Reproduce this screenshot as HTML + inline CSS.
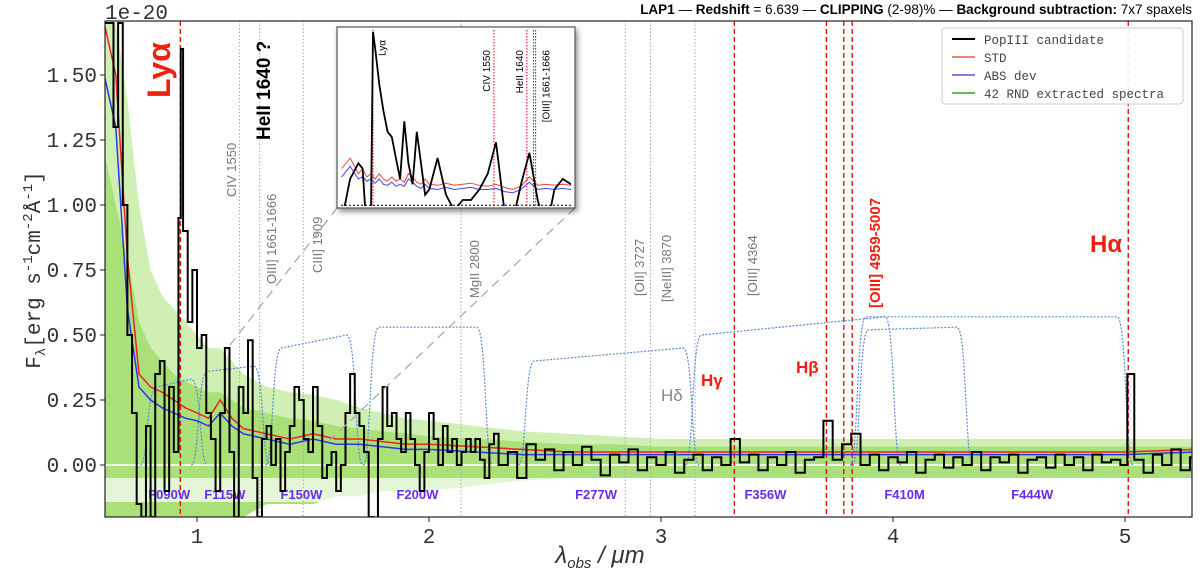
<!DOCTYPE html>
<html><head><meta charset="utf-8"><style>
html,body{margin:0;padding:0;background:#fff}
svg{display:block}
text{font-family:"Liberation Sans",sans-serif}
.mono{font-family:"Liberation Mono",monospace}
</style></head><body>
<svg id="chart" width="1200" height="575" viewBox="0 0 1200 575">
<defs><filter id="sh" x="-10%" y="-10%" width="130%" height="130%"><feDropShadow dx="2" dy="3" stdDeviation="3" flood-opacity="0.45"/></filter>
<clipPath id="pc"><rect x="105" y="21" width="1087" height="496"/></clipPath>
<clipPath id="ic"><rect x="341" y="30" width="230" height="176"/></clipPath></defs>
<g id="plot" clip-path="url(#pc)"></g>
<g id="over"></g>
<rect x="105" y="21" width="1087" height="496" fill="none" stroke="#222" stroke-width="1.2"/>
<text x="105" y="19" class="mono" font-size="21" fill="#333">1e-20</text>
<text x="1192" y="14" text-anchor="end" font-size="13.5" fill="#000"><tspan font-weight="bold">LAP1</tspan> — <tspan font-weight="bold">Redshift</tspan> = 6.639 — <tspan font-weight="bold">CLIPPING</tspan> (2-98)% — <tspan font-weight="bold">Background subtraction:</tspan> 7x7 spaxels</text>
<text transform="translate(40,270) rotate(-90)" text-anchor="middle" class="mono" font-size="21" fill="#333">F<tspan font-size="14" dy="5">λ</tspan><tspan dy="-5">[erg s</tspan><tspan font-size="14" dy="-8">-1</tspan><tspan dy="8">cm</tspan><tspan font-size="14" dy="-8">-2</tspan><tspan dy="8">Å</tspan><tspan font-size="14" dy="-8">-1</tspan><tspan dy="8">]</tspan></text>
<text x="600" y="563" text-anchor="middle" font-family="Liberation Serif,serif" font-size="24" font-style="italic" fill="#333">λ<tspan font-size="15" dy="5">obs</tspan><tspan dy="-5"> / μm</tspan></text>
<g>
<rect x="942" y="28" width="241" height="76" fill="#fff" fill-opacity="0.9" stroke="#ccc" rx="3"/>
<line x1="952" y1="39" x2="975" y2="39" stroke="#000" stroke-width="2"/><text x="984" y="44" class="mono" font-size="12.5" fill="#444">PopIII candidate</text>
<line x1="952" y1="57" x2="975" y2="57" stroke="#e55" stroke-width="1.5"/><text x="984" y="62" class="mono" font-size="12.5" fill="#444">STD</text>
<line x1="952" y1="75" x2="975" y2="75" stroke="#55c" stroke-width="1.5"/><text x="984" y="80" class="mono" font-size="12.5" fill="#444">ABS dev</text>
<line x1="952" y1="93" x2="975" y2="93" stroke="#2a2" stroke-width="1.5"/><text x="984" y="98" class="mono" font-size="12.5" fill="#444">42 RND extracted spectra</text>
</g>
</svg>
<script>
const lamB=[0.60,0.62,0.64,0.66,0.68,0.70,0.72,0.74,0.76,0.78,0.80,0.82,0.84,0.86,0.88,0.90,0.92,0.93,0.94,0.96,0.98,1.00,1.02,1.04,1.06,1.08,1.10,1.12,1.14,1.16,1.18,1.20,1.22,1.24,1.26,1.28,1.30,1.32,1.34,1.36,1.38,1.40,1.42,1.44,1.46,1.48,1.50,1.52,1.54,1.56,1.58,1.60,1.62,1.64,1.66,1.68,1.70,1.72,1.74,1.76,1.78,1.80,1.82,1.84,1.86,1.88,1.90,1.92,1.94,1.96,1.98,2.00,2.02,2.04,2.06,2.08,2.10,2.12,2.14,2.16,2.18,2.20,2.22,2.24,2.26,2.28,2.30,2.34,2.38,2.42,2.46,2.50,2.54,2.58,2.62,2.66,2.70,2.74,2.78,2.82,2.86,2.90,2.94,2.98,3.02,3.06,3.10,3.14,3.18,3.22,3.26,3.30,3.34,3.38,3.42,3.46,3.50,3.54,3.58,3.62,3.66,3.70,3.74,3.78,3.82,3.86,3.90,3.94,3.98,4.02,4.06,4.10,4.14,4.18,4.22,4.26,4.30,4.34,4.38,4.42,4.46,4.50,4.54,4.58,4.62,4.66,4.70,4.74,4.78,4.82,4.86,4.90,4.94,4.98,5.01,5.04,5.08,5.12,5.16,5.20,5.24,5.28];
const fluxB=[1.7,1.7,1.3,1.7,1.0,0.5,0.2,-0.15,-0.2,0.15,-0.2,0.35,0.4,-0.1,0.3,0.05,0.95,1.6,0.9,0.55,0.75,0.45,0.5,0.2,0.1,-0.1,0.2,0.45,0.05,-0.2,0.3,0.2,0.48,-0.05,-0.2,0.1,0.15,0.0,0.1,-0.1,0.05,0.15,0.3,0.25,0.1,0.05,0.3,0.15,-0.05,0.0,0.05,-0.1,0.0,0.2,0.35,0.2,0.15,0.05,-0.2,-0.25,0.1,0.3,0.15,0.2,0.1,0.05,0.2,0.1,0.0,-0.1,0.05,0.2,0.1,0.0,0.15,0.05,0.1,0.0,0.05,0.1,0.05,0.1,0.02,-0.05,0.08,0.12,0.0,0.05,-0.05,0.08,0.02,0.06,-0.02,0.05,0.0,0.07,0.02,-0.04,0.04,0.01,0.06,-0.02,0.03,0.0,0.05,-0.03,0.02,0.04,-0.02,0.03,0.0,0.1,0.01,0.04,-0.02,0.03,0.0,0.05,-0.03,0.02,0.03,0.17,0.02,0.08,0.12,0.0,0.04,-0.02,0.03,0.01,0.05,-0.03,0.02,0.04,-0.01,0.03,0.0,0.05,-0.02,0.03,0.01,0.04,-0.03,0.02,0.03,-0.01,0.04,0.0,0.03,-0.02,0.04,0.01,0.02,0.0,0.35,0.02,-0.03,0.04,0.0,0.06,-0.02,0.03];
const lamN=[0.6,0.65,0.7,0.75,0.8,0.85,0.9,0.95,1.0,1.05,1.1,1.15,1.2,1.3,1.4,1.5,1.6,1.7,1.8,1.9,2.0,2.2,2.4,2.6,2.8,3.0,3.5,4.0,4.5,5.0,5.3];
const stdN=[1.7,1.5,0.8,0.35,0.3,0.28,0.25,0.22,0.2,0.18,0.25,0.18,0.14,0.12,0.1,0.12,0.1,0.1,0.09,0.08,0.08,0.07,0.06,0.05,0.05,0.05,0.05,0.05,0.05,0.05,0.06];
const absN=[1.5,1.3,0.6,0.3,0.25,0.22,0.2,0.18,0.17,0.15,0.2,0.15,0.12,0.1,0.08,0.1,0.08,0.08,0.07,0.06,0.06,0.05,0.04,0.04,0.04,0.04,0.04,0.04,0.04,0.04,0.05];
const rndHi=[1.7,1.7,1.4,1.0,0.75,0.65,0.6,0.55,0.5,0.45,0.45,0.4,0.35,0.3,0.28,0.27,0.25,0.22,0.2,0.18,0.17,0.15,0.13,0.12,0.11,0.1,0.1,0.1,0.1,0.1,0.1];
const rndMid=[1.2,1.0,0.8,0.55,0.45,0.4,0.35,0.32,0.3,0.28,0.28,0.25,0.22,0.2,0.18,0.17,0.15,0.14,0.13,0.12,0.11,0.1,0.09,0.08,0.08,0.07,0.07,0.07,0.07,0.07,0.07];
const rndLo=[-0.2,-0.2,-0.2,-0.2,-0.2,-0.2,-0.2,-0.2,-0.2,-0.2,-0.2,-0.2,-0.2,-0.15,-0.15,-0.15,-0.12,-0.12,-0.1,-0.1,-0.1,-0.08,-0.06,-0.05,-0.05,-0.05,-0.05,-0.05,-0.05,-0.05,-0.05];
const filterNames=["F090W","F115W","F150W","F200W","F277W","F356W","F410M","F444W"];
const filterLo=[0.79,1.01,1.33,1.75,2.42,3.14,3.86,3.85];
const filterHi=[1.01,1.28,1.68,2.24,3.13,4.0,4.31,5.0];
const filterH1=[0.30,0.36,0.45,0.53,0.40,0.50,0.52,0.57];
const filterH2=[0.33,0.38,0.50,0.53,0.45,0.57,0.53,0.57];
const filterLabelX=[0.88,1.12,1.45,1.95,2.72,3.45,4.05,4.6];
const xTicks=[1,2,3,4,5];
const yTicks=[0,0.25,0.5,0.75,1.0,1.25,1.5];
const yTickLabels=["0.00","0.25","0.50","0.75","1.00","1.25","1.50"];
const grayLam=[1.183,1.27,1.458,2.138,2.846,2.955,3.147];
const redLam=[0.928,3.316,3.713,3.788,3.824,5.014];
const insetLam=[0.85,0.87,0.89,0.90,0.91,0.92,0.925,0.93,0.94,0.95,0.96,0.97,0.98,0.99,1.00,1.01,1.02,1.03,1.04,1.05,1.06,1.08,1.10,1.12,1.14,1.16,1.18,1.20,1.22,1.24,1.26,1.28,1.30,1.32,1.34,1.36,1.38,1.40];
const insetFlux=[-0.2,0.2,0.35,0.3,-0.3,-0.2,1.6,1.45,1.1,0.85,0.65,0.6,0.4,0.2,0.75,0.35,0.15,0.65,0.35,0.05,0.1,0.4,0.05,-0.1,0.0,0.0,0.1,0.25,0.55,-0.1,-0.2,0.15,0.45,0.0,-0.3,0.1,0.2,0.15];
const insetStd=[0.3,0.4,0.25,0.3,0.22,0.25,0.22,0.2,0.25,0.2,0.18,0.22,0.18,0.2,0.17,0.25,0.22,0.17,0.15,0.2,0.15,0.14,0.16,0.14,0.15,0.16,0.14,0.13,0.15,0.12,0.1,0.13,0.22,0.14,0.15,0.14,0.15,0.14];
const insetAbs=[0.22,0.32,0.2,0.22,0.18,0.2,0.18,0.16,0.2,0.15,0.14,0.17,0.13,0.15,0.13,0.2,0.17,0.13,0.11,0.15,0.11,0.1,0.12,0.1,0.11,0.12,0.1,0.1,0.11,0.08,0.07,0.1,0.17,0.1,0.11,0.1,0.11,0.1];
const insetLines=[0.925,1.215,1.294,1.31,1.315];

const NS="http://www.w3.org/2000/svg";
const X=l=>197+(l-1)*232, Y=v=>465-v*260;
const plot=document.getElementById('plot'), over=document.getElementById('over');
function mk(t,a,p){const e=document.createElementNS(NS,t);for(const k in a)e.setAttribute(k,a[k]);(p||plot).appendChild(e);return e;}
function pts(xs,ys,fx,fy){return xs.map((l,i)=>fx(l).toFixed(1)+','+fy(ys[i]).toFixed(1)).join(' ');}
function band(hi,col,op,name){const p=lamN.map((l,i)=>X(l)+','+Y(hi[i])).concat(lamN.slice().reverse().map((l,i)=>X(l)+','+Y(rndLo[lamN.length-1-i])));
 const g=mk('polygon',{points:p.join(' '),fill:col,'fill-opacity':op});
 
 }
band(rndHi,'#c4eba0','0.8','rnd-spectra-band-outer');
band(rndMid,'#9fdc68','0.8','rnd-spectra-band-inner');
let fb=mk('rect',{x:105,y:478,width:1087,height:24,fill:'#fff','fill-opacity':'0.7'});


let zl=mk('line',{x1:105,x2:1192,y1:Y(0),y2:Y(0),stroke:'#fff','stroke-width':1.5});


grayLam.forEach(l=>{const e=mk('line',{x1:X(l),x2:X(l),y1:21,y2:517,stroke:'#aaa','stroke-width':1,'stroke-dasharray':'1.5,2'});

});
redLam.forEach(l=>{const e=mk('line',{x1:X(l),x2:X(l),y1:21,y2:517,stroke:'#e00','stroke-width':1.3,'stroke-dasharray':'5,3'});

});
filterNames.forEach((n,i)=>{const a=X(filterLo[i]),b=X(filterHi[i]),r=8;
 const d=`M${a-r},${Y(0)} C${a},${Y(0)} ${a-2},${Y(filterH1[i])} ${a+r},${Y(filterH1[i])} L${b-r},${Y(filterH2[i])} C${b+2},${Y(filterH2[i])} ${b},${Y(0)} ${b+r},${Y(0)}`;
 const e=mk('path',{d:d,fill:'none',stroke:'#5b8bd6','stroke-width':1.2,'stroke-dasharray':'2,1.5'});
 
 
 const t=mk('text',{x:X(filterLabelX[i]),y:499,'text-anchor':'middle','font-size':13,'font-weight':'bold',fill:'#6a2cf0'});t.textContent=n;
 
 });
let sr=mk('polyline',{points:pts(lamN,stdN,X,Y),fill:'none',stroke:'#e22','stroke-width':1.5});


let ab=mk('polyline',{points:pts(lamN,absN,X,Y),fill:'none',stroke:'#33e','stroke-width':1.5});


let sp=[];lamB.forEach((l,i)=>{const x0=X(l),x1=i<lamB.length-1?X(lamB[i+1]):X(l)+8;sp.push(x0+','+Y(fluxB[i]),x1+','+Y(fluxB[i]));});
let bk=mk('polyline',{points:sp.join(' '),fill:'none',stroke:'#000','stroke-width':2});


xTicks.forEach(v=>{mk('line',{x1:X(v),x2:X(v),y1:517,y2:522,stroke:'#222'},over);const t=mk('text',{x:X(v),y:543,'text-anchor':'middle',class:'mono','font-size':21,fill:'#333'},over);t.textContent=v;
 
 });
yTicks.forEach((v,i)=>{mk('line',{x1:100,x2:105,y1:Y(v),y2:Y(v),stroke:'#222'},over);const t=mk('text',{x:97,y:Y(v)+7,'text-anchor':'end',class:'mono','font-size':21,fill:'#333'},over);t.textContent=yTickLabels[i];
 
 });
function lbl(txt,x,y,opt,name){const a={x:0,y:0,'font-size':opt.fs||13,fill:opt.c||'#777',transform:opt.rot?`translate(${x},${y}) rotate(-90)`:`translate(${x},${y})`};if(opt.b)a['font-weight']='bold';const t=mk('text',a,over);t.textContent=txt;
 
 }
lbl('Lyα',170,98,{rot:1,fs:32,c:'#f02010',b:1},'lya-label');
lbl('HeII 1640 ?',270,140,{rot:1,fs:19,c:'#000',b:1},'heii-label');
lbl('CIV 1550',236,197,{rot:1,fs:13},'civ-label');
lbl('OIII] 1661-1666',276,284,{rot:1,fs:13},'oiii-1661-label');
lbl('CIII] 1909',322,273,{rot:1,fs:13},'ciii-label');
lbl('MgII 2800',479,298,{rot:1,fs:13},'mgii-label');
lbl('[OII] 3727',644,296,{rot:1,fs:13},'oii-label');
lbl('[NeIII] 3870',671,302,{rot:1,fs:13},'neiii-label');
lbl('[OIII] 4364',757,296,{rot:1,fs:13},'oiii-4364-label');
lbl('[OIII] 4959-5007',880,308,{rot:1,fs:15,c:'#f02010',b:1},'oiii-doublet-label');
lbl('Hα',1090,252,{fs:24,c:'#f02010',b:1},'halpha-label');
lbl('Hβ',796,373,{fs:17,c:'#f02010',b:1},'hbeta-label');
lbl('Hγ',701,386,{fs:17,c:'#f02010',b:1},'hgamma-label');
lbl('Hδ',661,401,{fs:17,c:'#888'},'hdelta-label');
[[337,208,230,345],[575,208,330,440]].forEach(c=>{const e=mk('line',{x1:c[0],y1:c[1],x2:c[2],y2:c[3],stroke:'#aaa','stroke-width':1.3,'stroke-dasharray':'9,6'},over);
 
 });
const ig=mk('g',{},over);


mk('rect',{x:337,y:27,width:238,height:181,fill:'#fff',stroke:'#555','stroke-width':1.2,filter:'url(#sh)'},ig);
const IX=l=>373+(l-0.925)*417, IY=v=>200-v*105;
const ic=mk('g',{'clip-path':'url(#ic)'},ig);
mk('line',{x1:341,x2:571,y1:IY(-0.05),y2:IY(-0.05),stroke:'#000','stroke-dasharray':'2,2'},ic);
insetLines.forEach(l=>mk('line',{x1:IX(l),x2:IX(l),y1:30,y2:206,stroke:'#e00','stroke-dasharray':'1.5,1.5'},ic));
const is=mk('polyline',{points:pts(insetLam,insetStd,IX,IY),fill:'none',stroke:'#e44','stroke-width':1},ic);


const ia=mk('polyline',{points:pts(insetLam,insetAbs,IX,IY),fill:'none',stroke:'#44e','stroke-width':1},ic);


const ib=mk('polyline',{points:pts(insetLam,insetFlux,IX,IY),fill:'none',stroke:'#000','stroke-width':1.8},ic);


[['Lyα',IX(0.945)+4,40,10],['CIV 1550',IX(1.215)-4,50,10],['HeII 1640',IX(1.294)-4,50,10],['[OIII] 1661-1666',IX(1.315)+14,50,10]].forEach(a=>{const t=mk('text',{transform:`translate(${a[1]},${a[2]}) rotate(-90)`,'font-size':a[3],fill:'#000','text-anchor':'end'},ig);t.textContent=a[0];
 
 });
</script>
</body></html>
